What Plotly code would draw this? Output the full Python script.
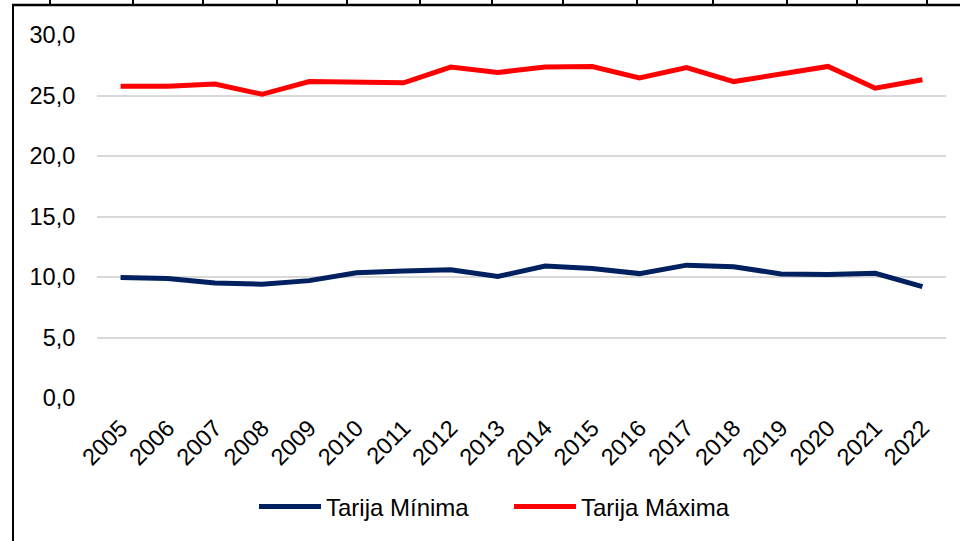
import plotly.graph_objects as go

years = [str(y) for y in range(2005, 2023)]
tarija_minima = [9.95, 9.87, 9.50, 9.40, 9.70, 10.35, 10.50, 10.60, 10.05, 10.90,
                 10.70, 10.28, 10.98, 10.85, 10.25, 10.20, 10.30, 9.20]
tarija_maxima = [25.77, 25.77, 25.95, 25.10, 26.15, 26.10, 26.05, 27.35, 26.90, 27.35,
                 27.40, 26.45, 27.30, 26.15, 26.75, 27.40, 25.60, 26.30]
y_ticks = [0, 5, 10, 15, 20, 25, 30]
y_tick_labels = ["0,0", "5,0", "10,0", "15,0", "20,0", "25,0", "30,0"]

W, H = 960, 541
ML, MR, MT, MB = 97, 14, 35, 143
PW, PH = W - ML - MR, H - MT - MB

def px(x):
    return (x - ML) / PW

def py(y):
    return 1 - (y - MT) / PH

FONT = "Liberation Sans, Arial, sans-serif"
FS = 23.5

fig = go.Figure()
fig.add_trace(go.Scatter(x=years, y=tarija_minima, mode="lines", name="Tarija Mínima",
                         line=dict(color="#002060", width=5)))
fig.add_trace(go.Scatter(x=years, y=tarija_maxima, mode="lines", name="Tarija Máxima",
                         line=dict(color="#FF0000", width=5)))

shapes = []
# frame (left and top border of the surrounding box)
shapes.append(dict(type="line", xref="paper", yref="paper", x0=px(13), x1=px(13),
                   y0=py(4), y1=py(545), line=dict(color="black", width=2)))
shapes.append(dict(type="line", xref="paper", yref="paper", x0=px(12), x1=px(965),
                   y0=py(5), y1=py(5), line=dict(color="black", width=2.5)))
top_tick_px = [50, 133, 203, 277, 347, 420, 492, 563, 637, 713, 787, 857, 927]
for t in top_tick_px:
    shapes.append(dict(type="line", xref="paper", yref="paper", x0=px(t), x1=px(t),
                       y0=py(-1), y1=py(4), line=dict(color="black", width=2)))

fig.update_layout(
    width=W, height=H,
    margin=dict(l=ML, r=MR, t=MT, b=MB, pad=0, autoexpand=False),
    paper_bgcolor="white", plot_bgcolor="white",
    font=dict(family=FONT, size=FS, color="black"),
    showlegend=True,
    legend=dict(orientation="h", x=px(254), xanchor="left", y=py(507), yanchor="middle",
                font=dict(family=FONT, size=24, color="black"),
                itemwidth=62, entrywidth=178, entrywidthmode="pixels",
                bgcolor="rgba(0,0,0,0)"),
    xaxis=dict(type="category", range=[-0.5, len(years) - 0.5], tickangle=-45,
               showgrid=False, showline=False, zeroline=False,
               ticks="outside", ticklen=6, tickcolor="rgba(0,0,0,0)",
               tickfont=dict(family=FONT, size=FS, color="black"), automargin=False),
    yaxis=dict(range=[0, 30], tickvals=y_ticks, ticktext=y_tick_labels,
               showgrid=True, gridcolor="#D9D9D9", gridwidth=1.5, zeroline=False,
               showline=False, ticks="outside", ticklen=16, tickcolor="rgba(0,0,0,0)",
               tickfont=dict(family=FONT, size=FS, color="black"), automargin=False),
    shapes=shapes,
)

fig.write_html("out.html", config={"displayModeBar": False},
               post_script="document.body.style.margin='0';")
